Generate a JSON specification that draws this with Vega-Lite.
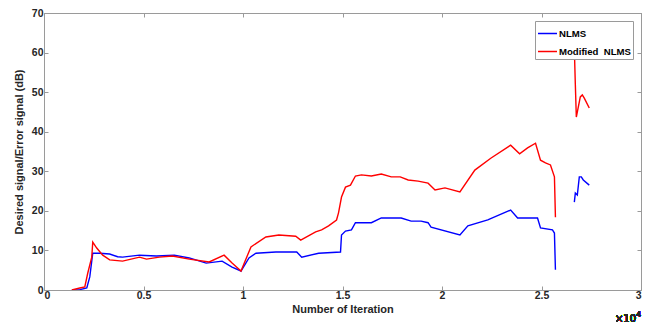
{
  "$schema": "https://vega.github.io/schema/vega-lite/v6.json",
  "width": 597,
  "height": 277,
  "autosize": "none",
  "padding": {"left": 44, "top": 13, "right": 11, "bottom": 33},
  "background": "white",
  "config": {
    "font": "Liberation Sans",
    "view": {"stroke": "#9a9a9a", "strokeWidth": 1},
    "axis": {
      "grid": false,
      "domainColor": "#9a9a9a",
      "tickColor": "#9a9a9a",
      "tickSize": -4,
      "labelFont": "Liberation Sans",
      "labelFontWeight": "bold",
      "labelFontSize": 10.5,
      "labelColor": "#262626",
      "titleFont": "Liberation Sans",
      "titleFontWeight": "bold",
      "titleFontSize": 11,
      "titleColor": "#262626"
    },
    "legend": {
      "orient": "top-right",
      "offset": 8,
      "strokeColor": "#9a9a9a",
      "fillColor": "white",
      "padding": 2,
      "labelFont": "Liberation Sans",
      "labelFontWeight": "bold",
      "labelFontSize": 9.6,
      "labelColor": "#000000",
      "labelOffset": 1,
      "symbolType": "stroke",
      "symbolSize": 360,
      "symbolStrokeWidth": 1.5,
      "rowPadding": 2,
      "title": null
    }
  },
  "data": {"values": [
    {"s":"NLMS","seg":1,"x":1400,"y":0},
    {"s":"NLMS","seg":1,"x":1800,"y":0.1},
    {"s":"NLMS","seg":1,"x":2150,"y":0.5},
    {"s":"NLMS","seg":1,"x":2300,"y":3.3},
    {"s":"NLMS","seg":1,"x":2450,"y":9.3},
    {"s":"NLMS","seg":1,"x":2800,"y":9.3},
    {"s":"NLMS","seg":1,"x":3300,"y":9.1},
    {"s":"NLMS","seg":1,"x":3700,"y":8.4},
    {"s":"NLMS","seg":1,"x":3950,"y":8.3},
    {"s":"NLMS","seg":1,"x":4800,"y":8.8},
    {"s":"NLMS","seg":1,"x":5650,"y":8.6},
    {"s":"NLMS","seg":1,"x":6550,"y":8.8},
    {"s":"NLMS","seg":1,"x":7300,"y":8.1},
    {"s":"NLMS","seg":1,"x":8150,"y":6.8},
    {"s":"NLMS","seg":1,"x":8950,"y":7.3},
    {"s":"NLMS","seg":1,"x":9450,"y":5.8},
    {"s":"NLMS","seg":1,"x":9900,"y":4.8},
    {"s":"NLMS","seg":1,"x":10300,"y":8.1},
    {"s":"NLMS","seg":1,"x":10650,"y":9.3},
    {"s":"NLMS","seg":1,"x":11650,"y":9.6},
    {"s":"NLMS","seg":1,"x":12700,"y":9.6},
    {"s":"NLMS","seg":1,"x":12950,"y":8.3},
    {"s":"NLMS","seg":1,"x":13800,"y":9.3},
    {"s":"NLMS","seg":1,"x":14900,"y":9.6},
    {"s":"NLMS","seg":1,"x":14950,"y":13.9},
    {"s":"NLMS","seg":1,"x":15150,"y":14.9},
    {"s":"NLMS","seg":1,"x":15450,"y":15.2},
    {"s":"NLMS","seg":1,"x":15650,"y":17.0},
    {"s":"NLMS","seg":1,"x":16450,"y":17.0},
    {"s":"NLMS","seg":1,"x":16950,"y":18.2},
    {"s":"NLMS","seg":1,"x":17950,"y":18.2},
    {"s":"NLMS","seg":1,"x":18450,"y":17.4},
    {"s":"NLMS","seg":1,"x":18950,"y":17.4},
    {"s":"NLMS","seg":1,"x":19300,"y":17.0},
    {"s":"NLMS","seg":1,"x":19450,"y":15.9},
    {"s":"NLMS","seg":1,"x":20900,"y":13.9},
    {"s":"NLMS","seg":1,"x":21300,"y":16.2},
    {"s":"NLMS","seg":1,"x":22300,"y":17.7},
    {"s":"NLMS","seg":1,"x":23450,"y":20.2},
    {"s":"NLMS","seg":1,"x":23800,"y":18.2},
    {"s":"NLMS","seg":1,"x":24800,"y":18.2},
    {"s":"NLMS","seg":1,"x":24950,"y":15.7},
    {"s":"NLMS","seg":1,"x":25550,"y":15.2},
    {"s":"NLMS","seg":1,"x":25650,"y":14.4},
    {"s":"NLMS","seg":1,"x":25700,"y":5.1},
    {"s":"NLMS","seg":2,"x":26650,"y":22.2},
    {"s":"NLMS","seg":2,"x":26700,"y":24.5},
    {"s":"NLMS","seg":2,"x":26800,"y":24.0},
    {"s":"NLMS","seg":2,"x":26900,"y":28.6},
    {"s":"NLMS","seg":2,"x":27000,"y":28.6},
    {"s":"NLMS","seg":2,"x":27100,"y":27.8},
    {"s":"NLMS","seg":2,"x":27400,"y":26.5},
    {"s":"Modified\u00a0 NLMS","seg":1,"x":1400,"y":0},
    {"s":"Modified\u00a0 NLMS","seg":1,"x":1800,"y":0.5},
    {"s":"Modified\u00a0 NLMS","seg":1,"x":2050,"y":0.8},
    {"s":"Modified\u00a0 NLMS","seg":1,"x":2200,"y":4.3},
    {"s":"Modified\u00a0 NLMS","seg":1,"x":2400,"y":8.3},
    {"s":"Modified\u00a0 NLMS","seg":1,"x":2450,"y":12.1},
    {"s":"Modified\u00a0 NLMS","seg":1,"x":2650,"y":10.6},
    {"s":"Modified\u00a0 NLMS","seg":1,"x":2950,"y":8.8},
    {"s":"Modified\u00a0 NLMS","seg":1,"x":3300,"y":7.6},
    {"s":"Modified\u00a0 NLMS","seg":1,"x":3950,"y":7.3},
    {"s":"Modified\u00a0 NLMS","seg":1,"x":4800,"y":8.3},
    {"s":"Modified\u00a0 NLMS","seg":1,"x":5150,"y":7.8},
    {"s":"Modified\u00a0 NLMS","seg":1,"x":5800,"y":8.3},
    {"s":"Modified\u00a0 NLMS","seg":1,"x":6450,"y":8.6},
    {"s":"Modified\u00a0 NLMS","seg":1,"x":7300,"y":7.8},
    {"s":"Modified\u00a0 NLMS","seg":1,"x":8300,"y":7.1},
    {"s":"Modified\u00a0 NLMS","seg":1,"x":9050,"y":8.8},
    {"s":"Modified\u00a0 NLMS","seg":1,"x":9450,"y":6.8},
    {"s":"Modified\u00a0 NLMS","seg":1,"x":9900,"y":4.8},
    {"s":"Modified\u00a0 NLMS","seg":1,"x":10400,"y":10.9},
    {"s":"Modified\u00a0 NLMS","seg":1,"x":11150,"y":13.4},
    {"s":"Modified\u00a0 NLMS","seg":1,"x":11800,"y":13.9},
    {"s":"Modified\u00a0 NLMS","seg":1,"x":12650,"y":13.6},
    {"s":"Modified\u00a0 NLMS","seg":1,"x":12900,"y":12.6},
    {"s":"Modified\u00a0 NLMS","seg":1,"x":13650,"y":14.7},
    {"s":"Modified\u00a0 NLMS","seg":1,"x":13950,"y":15.2},
    {"s":"Modified\u00a0 NLMS","seg":1,"x":14300,"y":16.2},
    {"s":"Modified\u00a0 NLMS","seg":1,"x":14700,"y":17.7},
    {"s":"Modified\u00a0 NLMS","seg":1,"x":14800,"y":19.5},
    {"s":"Modified\u00a0 NLMS","seg":1,"x":14950,"y":23.5},
    {"s":"Modified\u00a0 NLMS","seg":1,"x":15150,"y":26.0},
    {"s":"Modified\u00a0 NLMS","seg":1,"x":15400,"y":26.5},
    {"s":"Modified\u00a0 NLMS","seg":1,"x":15650,"y":28.8},
    {"s":"Modified\u00a0 NLMS","seg":1,"x":15950,"y":29.1},
    {"s":"Modified\u00a0 NLMS","seg":1,"x":16450,"y":28.8},
    {"s":"Modified\u00a0 NLMS","seg":1,"x":16950,"y":29.3},
    {"s":"Modified\u00a0 NLMS","seg":1,"x":17450,"y":28.6},
    {"s":"Modified\u00a0 NLMS","seg":1,"x":17900,"y":28.6},
    {"s":"Modified\u00a0 NLMS","seg":1,"x":18300,"y":27.8},
    {"s":"Modified\u00a0 NLMS","seg":1,"x":18800,"y":27.5},
    {"s":"Modified\u00a0 NLMS","seg":1,"x":19300,"y":27.0},
    {"s":"Modified\u00a0 NLMS","seg":1,"x":19650,"y":25.3},
    {"s":"Modified\u00a0 NLMS","seg":1,"x":20150,"y":25.8},
    {"s":"Modified\u00a0 NLMS","seg":1,"x":20900,"y":24.8},
    {"s":"Modified\u00a0 NLMS","seg":1,"x":21650,"y":30.3},
    {"s":"Modified\u00a0 NLMS","seg":1,"x":22450,"y":33.3},
    {"s":"Modified\u00a0 NLMS","seg":1,"x":23450,"y":36.6},
    {"s":"Modified\u00a0 NLMS","seg":1,"x":23900,"y":34.4},
    {"s":"Modified\u00a0 NLMS","seg":1,"x":24300,"y":35.9},
    {"s":"Modified\u00a0 NLMS","seg":1,"x":24700,"y":37.1},
    {"s":"Modified\u00a0 NLMS","seg":1,"x":24950,"y":32.8},
    {"s":"Modified\u00a0 NLMS","seg":1,"x":25200,"y":32.1},
    {"s":"Modified\u00a0 NLMS","seg":1,"x":25450,"y":31.6},
    {"s":"Modified\u00a0 NLMS","seg":1,"x":25650,"y":28.6},
    {"s":"Modified\u00a0 NLMS","seg":1,"x":25700,"y":18.4},
    {"s":"Modified\u00a0 NLMS","seg":2,"x":26650,"y":61.0},
    {"s":"Modified\u00a0 NLMS","seg":2,"x":26700,"y":52.0},
    {"s":"Modified\u00a0 NLMS","seg":2,"x":26750,"y":43.7},
    {"s":"Modified\u00a0 NLMS","seg":2,"x":26950,"y":48.8},
    {"s":"Modified\u00a0 NLMS","seg":2,"x":27050,"y":49.3},
    {"s":"Modified\u00a0 NLMS","seg":2,"x":27150,"y":48.5},
    {"s":"Modified\u00a0 NLMS","seg":2,"x":27400,"y":46.0}
  ]},
  "resolve": {"axis": {"x": "independent", "y": "independent"}},
  "layer": [
    {
      "mark": {"type": "line", "strokeWidth": 1.4, "clip": true},
      "encoding": {
        "x": {"field": "x", "type": "quantitative",
              "scale": {"domain": [0, 30000], "nice": false},
              "axis": {"title": "Number of Iteration", "values": [0,5000,10000,15000,20000,25000,30000],
                       "labelExpr": "format(datum.value/10000, '')", "labelPadding": 4, "titlePadding": 3}},
        "y": {"field": "y", "type": "quantitative",
              "scale": {"domain": [0, 70], "nice": false},
              "axis": {"title": "Desired signal/Error signal (dB)", "values": [0,10,20,30,40,50,60,70],
                       "labelPadding": 5, "titlePadding": 7}},
        "color": {"field": "s", "type": "nominal",
                  "scale": {"domain": ["NLMS", "Modified\u00a0 NLMS"], "range": ["#0000ff", "#ff0000"]},
                  "legend": {}},
        "detail": {"field": "seg", "type": "nominal"},
        "order": {"field": "x", "type": "quantitative"}
      }
    },
    {
      "mark": {"type": "line", "opacity": 0},
      "encoding": {
        "x": {"field": "x", "type": "quantitative",
              "axis": {"orient": "top", "title": null, "labels": false, "values": [0,5000,10000,15000,20000,25000,30000]}},
        "y": {"field": "y", "type": "quantitative",
              "axis": {"orient": "right", "title": null, "labels": false, "values": [0,10,20,30,40,50,60,70]}},
        "detail": {"field": "seg", "type": "nominal"}
      }
    },
    {
      "mark": {"type": "text", "clip": false, "align": "right", "baseline": "middle", "dx": -5, "fontSize": 10, "font": "DejaVu Sans", "color": "#262626"},
      "encoding": {
        "x": {"datum": 30000, "type": "quantitative", "axis": null},
        "y": {"datum": -7.4, "type": "quantitative", "axis": null},
        "text": {"value": "×10"}
      }
    },
    {
      "mark": {"type": "text", "clip": false, "align": "right", "baseline": "middle", "dx": 0, "dy": -4, "fontSize": 7.5, "font": "DejaVu Sans", "color": "#262626"},
      "encoding": {
        "x": {"datum": 30000, "type": "quantitative", "axis": null},
        "y": {"datum": -7.4, "type": "quantitative", "axis": null},
        "text": {"value": "4"}
      }
    }
  ]
}
